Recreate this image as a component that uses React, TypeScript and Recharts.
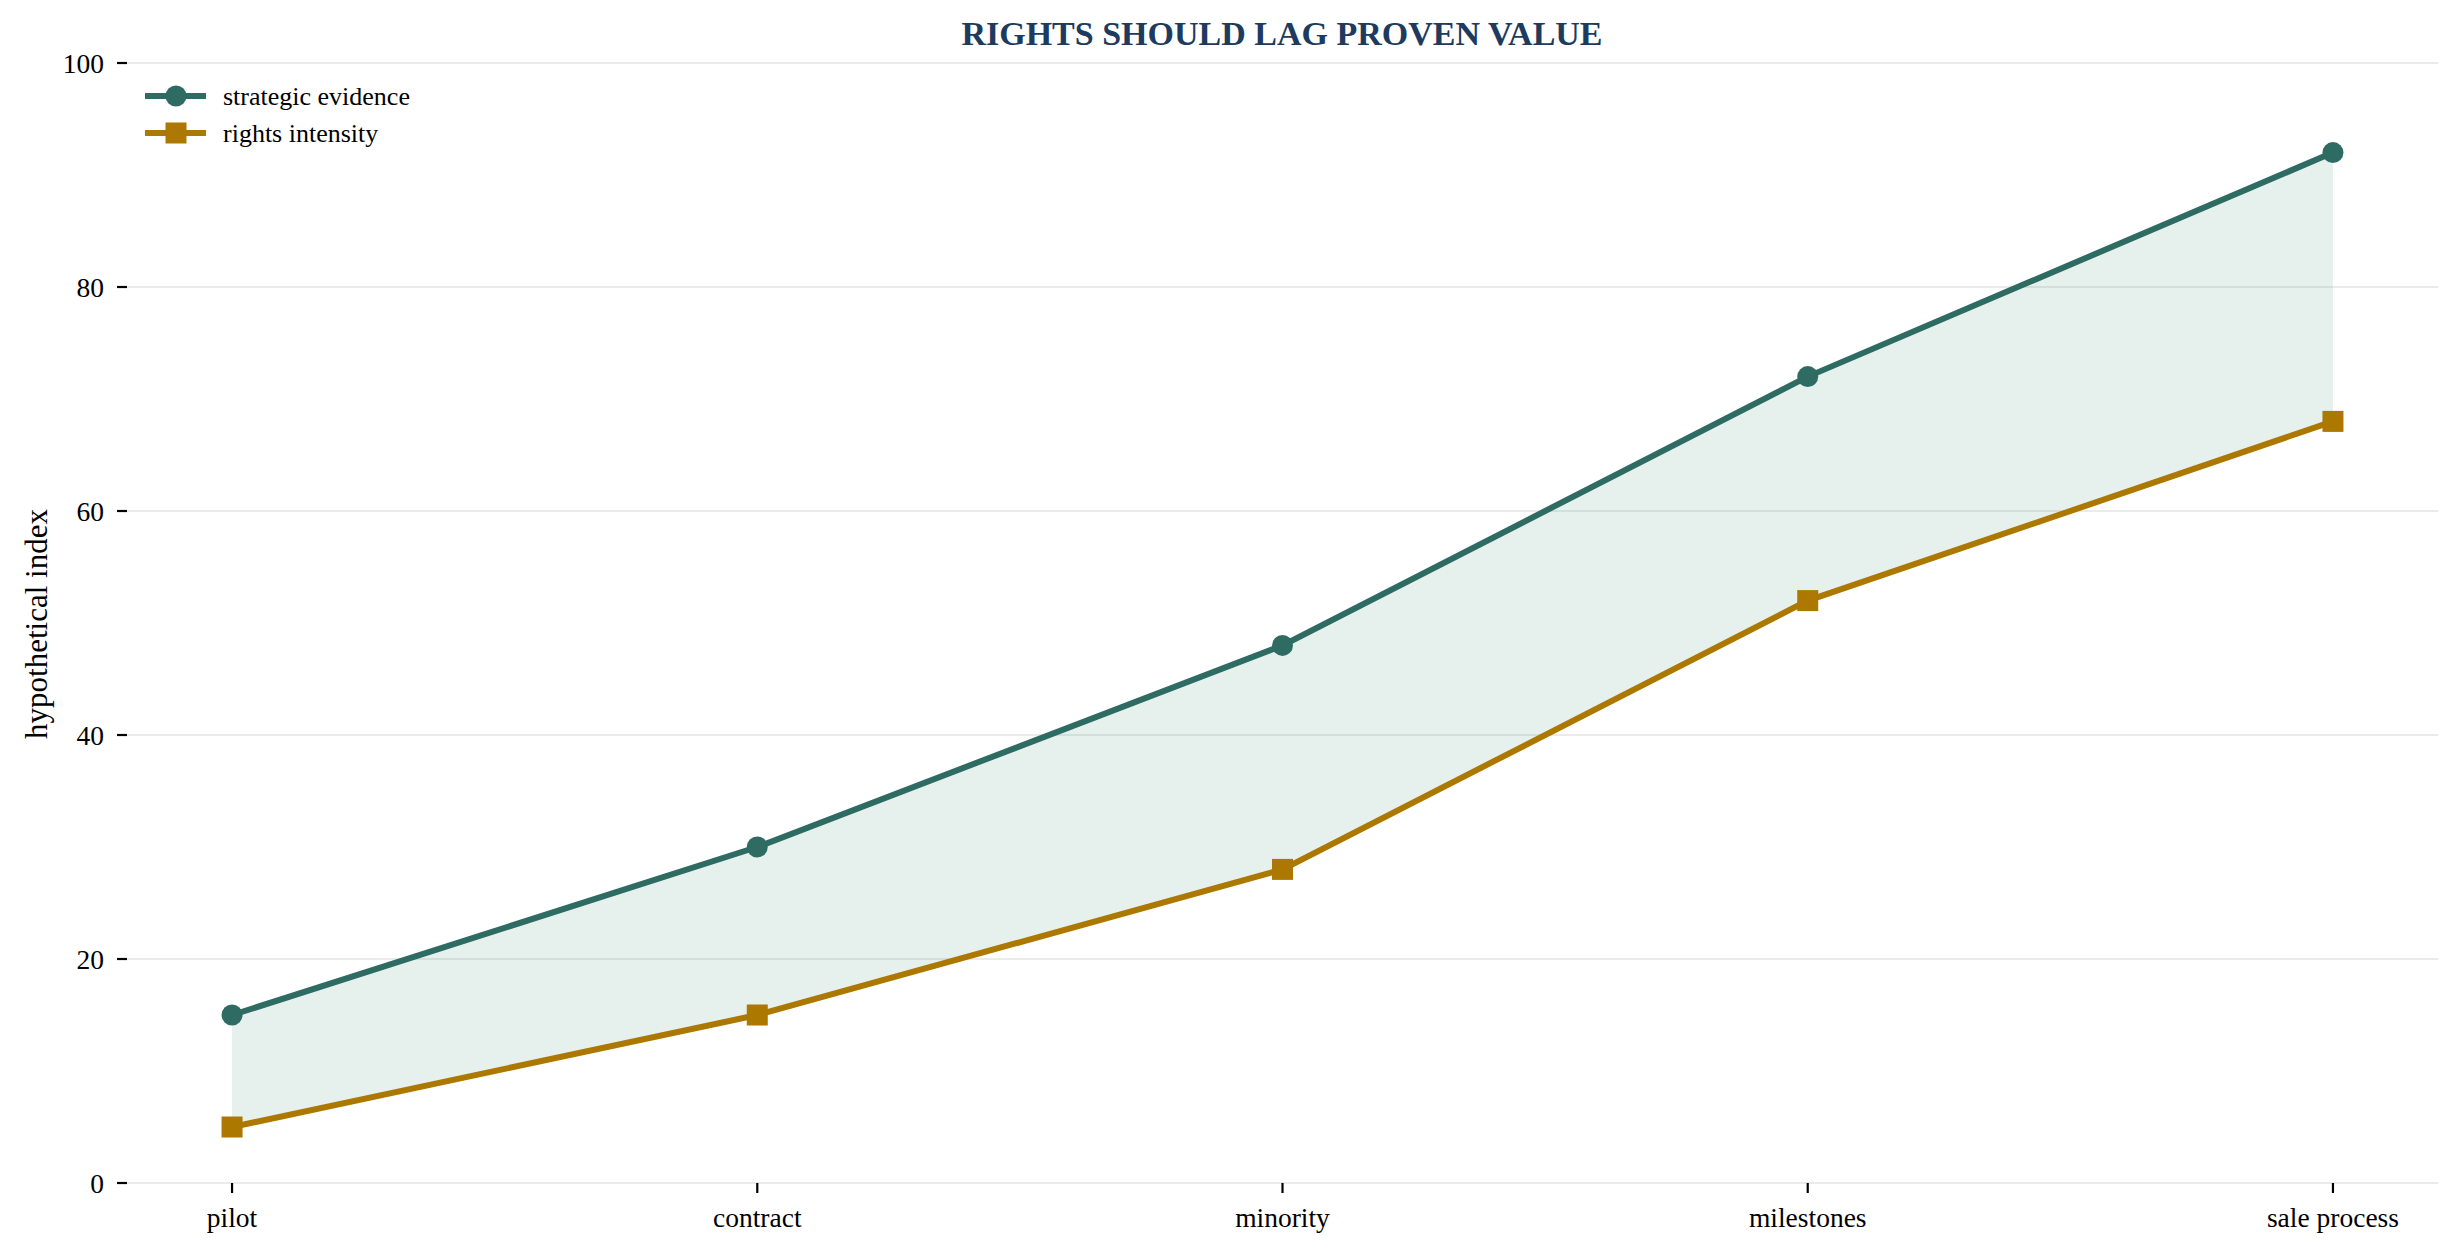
import React from 'react';
import { ComposedChart, Line, Area, XAxis, YAxis, CartesianGrid, Legend, Label } from 'recharts';

const categories = ['pilot', 'contract', 'minority', 'milestones', 'sale process'];
const strategicEvidence = [15, 30, 48, 72, 92];
const rightsIntensity = [5, 15, 28, 52, 68];
const yTicks = [0, 20, 40, 60, 80, 100];
const xTicks = [0, 1, 2, 3, 4];
const legendOrder = ['evidence', 'rights'];

const TEAL = '#2e6b62';
const GOLD = '#ad7800';
const BAND = '#2f8a6a';
const FONT = '"Liberation Serif", "Times New Roman", serif';

const data = categories.map((c, i) => ({
  idx: i,
  name: c,
  evidence: strategicEvidence[i],
  rights: rightsIntensity[i],
  band: [rightsIntensity[i], strategicEvidence[i]],
}));

const SquareDot = (props: any) => {
  const { cx, cy, index } = props;
  if (cx == null || cy == null) return null;
  return <rect key={`sq-${index}`} x={cx - 10.5} y={cy - 10.5} width={21} height={21} fill={GOLD} />;
};

const LegendContent = (props: any) => {
  const items = (props.payload || [])
    .filter((p: any) => legendOrder.includes(p.dataKey))
    .sort((a: any, b: any) => legendOrder.indexOf(a.dataKey) - legendOrder.indexOf(b.dataKey));
  return (
    <svg width={340} height={80} style={{ display: 'block' }}>
      {items.map((it: any, i: number) => {
        const cy = 20 + i * 37;
        const color = it.dataKey === 'evidence' ? TEAL : GOLD;
        return (
          <g key={it.dataKey}>
            <line x1={5} x2={66} y1={cy} y2={cy} stroke={color} strokeWidth={6} />
            {it.dataKey === 'evidence' ? (
              <circle cx={36} cy={cy} r={10.5} fill={color} />
            ) : (
              <rect x={25.5} y={cy - 10.5} width={21} height={21} fill={color} />
            )}
            <text x={83} y={cy} dy="0.35em" fontSize={26} fontFamily={FONT} fill="#000">
              {it.value}
            </text>
          </g>
        );
      })}
    </svg>
  );
};

export default function App() {
  return (
    <div style={{ position: 'absolute', left: 0, top: 0, width: 2460, height: 1254, background: '#fff' }}>
      <div
        style={{
          position: 'absolute',
          left: 0,
          width: 2564,
          top: 14,
          textAlign: 'center',
          fontFamily: FONT,
          fontWeight: 'bold',
          fontSize: 34,
          lineHeight: '40px',
          color: '#1d3a5f',
        }}
      >
        RIGHTS SHOULD LAG PROVEN VALUE
      </div>
      <ComposedChart
        width={2460}
        height={1254}
        data={data}
        margin={{ top: 63, right: 22, bottom: 11, left: 67 }}
      >
        <CartesianGrid vertical={false} stroke="#ebebeb" strokeWidth={2} />
        <XAxis
          dataKey="idx"
          type="number"
          domain={[-0.2, 4.2]}
          ticks={xTicks}
          tickFormatter={(v: number) => categories[v]}
          axisLine={false}
          tickLine={{ stroke: '#000', strokeWidth: 2.2 }}
          tickSize={10}
          tickMargin={14}
          height={60}
          tick={{ fontSize: 27.5, fontFamily: FONT, fill: '#000' }}
          interval={0}
          allowDataOverflow
        />
        <YAxis
          type="number"
          domain={[0, 100]}
          ticks={yTicks}
          axisLine={false}
          tickLine={{ stroke: '#000', strokeWidth: 2.2 }}
          tickSize={10}
          tickMargin={13}
          width={60}
          tick={{ fontSize: 27.5, fontFamily: FONT, fill: '#000' }}
          interval={0}
        >
          <Label
            content={() => (
              <text
                x={36}
                y={624}
                transform="rotate(-90 36 624)"
                textAnchor="middle"
                dy="0.35em"
                fontSize={31}
                fontFamily={FONT}
                fill="#000"
              >
                hypothetical index
              </text>
            )}
          />
        </YAxis>
        <Legend
          layout="horizontal"
          verticalAlign="middle"
          align="center"
          content={<LegendContent />}
          wrapperStyle={{ left: 140, top: 76, width: 340, height: 80 }}
        />
        <Area
          dataKey="band"
          type="linear"
          stroke="none"
          fill={BAND}
          fillOpacity={0.12}
          legendType="none"
          isAnimationActive={false}
          dot={false}
          activeDot={false}
        />
        <Line
          dataKey="evidence"
          name="strategic evidence"
          type="linear"
          stroke={TEAL}
          strokeWidth={6}
          dot={{ r: 10.5, fill: TEAL, stroke: TEAL, strokeWidth: 0 }}
          activeDot={false}
          isAnimationActive={false}
        />
        <Line
          dataKey="rights"
          name="rights intensity"
          type="linear"
          stroke={GOLD}
          strokeWidth={6}
          dot={<SquareDot />}
          activeDot={false}
          isAnimationActive={false}
        />
      </ComposedChart>
    </div>
  );
}
